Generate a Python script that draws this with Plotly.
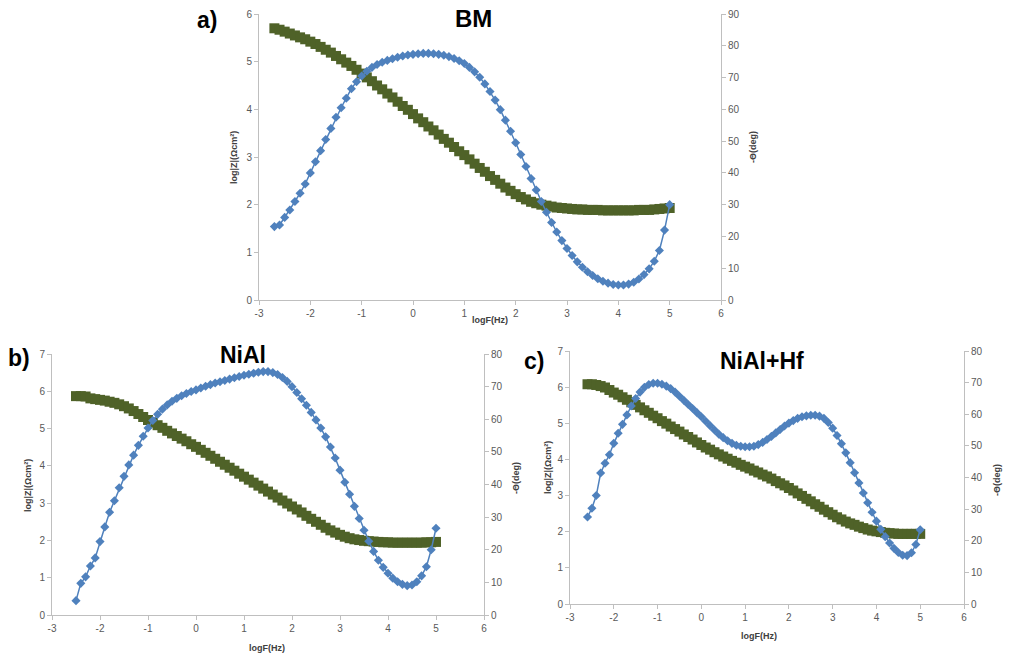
import plotly.graph_objects as go

# ---- frequency grid (log10 f / Hz), shared by all panels ----
LOGF = [-2.7, -2.6, -2.5, -2.4, -2.3, -2.2, -2.1, -2.0, -1.9, -1.8, -1.7, -1.6, -1.5, -1.4, -1.3,
        -1.2, -1.1, -1.0, -0.9, -0.8, -0.7, -0.6, -0.5, -0.4, -0.3, -0.2, -0.1, 0.0, 0.1, 0.2,
        0.3, 0.4, 0.5, 0.6, 0.7, 0.8, 0.9, 1.0, 1.1, 1.2, 1.3, 1.4, 1.5, 1.6, 1.7, 1.8, 1.9,
        2.0, 2.1, 2.2, 2.3, 2.4, 2.5, 2.6, 2.7, 2.8, 2.9, 3.0, 3.1, 3.2, 3.3, 3.4, 3.5, 3.6,
        3.7, 3.8, 3.9, 4.0, 4.1, 4.2, 4.3, 4.4, 4.5, 4.6, 4.7, 4.8, 4.9, 5.0]

# ---- a) BM ----
BM_X = LOGF
BM_Z = [5.70, 5.67, 5.63, 5.59, 5.55, 5.51, 5.47, 5.42, 5.37, 5.31, 5.25, 5.19, 5.12, 5.05, 4.98,
        4.91, 4.83, 4.75, 4.67, 4.59, 4.50, 4.42, 4.33, 4.25, 4.16, 4.07, 3.99, 3.90, 3.81, 3.73,
        3.64, 3.56, 3.47, 3.38, 3.30, 3.21, 3.12, 3.04, 2.95, 2.86, 2.77, 2.69, 2.60, 2.52, 2.44,
        2.36, 2.29, 2.22, 2.16, 2.11, 2.06, 2.03, 2.00, 1.98, 1.96, 1.94, 1.93, 1.92, 1.91, 1.90,
        1.90, 1.89, 1.89, 1.89, 1.88, 1.88, 1.88, 1.88, 1.88, 1.88, 1.88, 1.89, 1.89, 1.89, 1.90,
        1.91, 1.92, 1.93]
BM_PH = [23.1, 23.6, 26.0, 28.3, 31.0, 33.6, 36.5, 40.0, 43.5, 47.0, 50.5, 54.0, 57.5, 60.5, 63.5,
         66.5, 68.7, 70.5, 72.0, 73.2, 74.1, 74.8, 75.4, 75.9, 76.4, 76.8, 77.1, 77.3, 77.5, 77.6,
         77.6, 77.5, 77.3, 77.0, 76.6, 76.0, 75.3, 74.4, 73.2, 71.8, 70.1, 68.0, 65.6, 62.9, 59.9,
         56.6, 53.1, 49.5, 45.8, 42.0, 38.2, 34.6, 31.0, 27.6, 24.4, 21.4, 18.7, 16.2, 14.0, 12.0,
         10.3, 8.9, 7.7, 6.7, 5.9, 5.3, 4.9, 4.7, 4.7, 5.0, 5.6, 6.6, 8.0, 9.8, 12.2,
         15.6, 22.0, 30.0]

# ---- b) NiAl ----
NIAL_X = LOGF[2:]
NIAL_Z = [5.87, 5.87, 5.86, 5.81, 5.79, 5.77, 5.75, 5.72, 5.69, 5.65, 5.60, 5.54, 5.47, 5.39, 5.31,
          5.23, 5.16, 5.09, 5.02, 4.94, 4.87, 4.80, 4.73, 4.66, 4.58, 4.51, 4.43, 4.35, 4.27, 4.19,
          4.11, 4.03, 3.95, 3.87, 3.79, 3.71, 3.63, 3.55, 3.47, 3.39, 3.31, 3.23, 3.15, 3.07, 2.99,
          2.91, 2.83, 2.75, 2.66, 2.58, 2.50, 2.42, 2.34, 2.27, 2.21, 2.15, 2.10, 2.06, 2.03, 2.01,
          1.99, 1.98, 1.97, 1.96, 1.95, 1.95, 1.94, 1.94, 1.94, 1.94, 1.94, 1.94, 1.94, 1.95, 1.95,
          1.96]
NIAL_PH = [4.4, 9.7, 11.7, 15.0, 17.5, 22.5, 27.0, 31.5, 35.0, 39.0, 42.5, 46.0, 49.0, 52.0, 54.8,
           57.3, 59.6, 61.5, 63.1, 64.4, 65.5, 66.4, 67.2, 67.9, 68.5, 69.0, 69.6, 70.1, 70.6, 71.1,
           71.5, 71.9, 72.3, 72.7, 73.1, 73.5, 73.8, 74.1, 74.4, 74.6, 74.6, 74.3, 73.7, 72.8, 71.6,
           70.0, 68.2, 66.3, 64.3, 62.1, 59.8, 57.3, 54.6, 51.5, 48.1, 44.4, 40.7, 37.0, 33.3, 29.6,
           26.0, 22.6, 19.5, 16.8, 14.6, 12.8, 11.3, 10.2, 9.4, 9.0, 9.2, 10.2, 12.0, 14.8, 20.0,
           26.6]

# ---- c) NiAl+Hf ----
NIALHF_X = LOGF[1:]
NIALHF_Z = [6.08, 6.08, 6.06, 6.03, 5.99, 5.92, 5.85, 5.79, 5.72, 5.65, 5.58, 5.51, 5.44, 5.36, 5.29,
            5.21, 5.14, 5.06, 4.99, 4.91, 4.84, 4.77, 4.69, 4.62, 4.55, 4.47, 4.40, 4.33, 4.27, 4.20,
            4.14, 4.08, 4.02, 3.96, 3.91, 3.85, 3.80, 3.75, 3.69, 3.64, 3.58, 3.53, 3.47, 3.40, 3.34,
            3.28, 3.21, 3.14, 3.06, 2.99, 2.91, 2.84, 2.76, 2.69, 2.61, 2.54, 2.47, 2.40, 2.34, 2.28,
            2.23, 2.19, 2.14, 2.10, 2.06, 2.03, 2.01, 1.99, 1.97, 1.96, 1.95, 1.94, 1.94, 1.94, 1.94,
            1.94, 1.94]
NIALHF_PH = [27.5, 30.3, 34.3, 41.4, 44.5, 47.2, 50.8, 54.0, 56.8, 59.8, 62.6, 65.0, 67.0, 68.5, 69.4,
             69.8, 69.8, 69.5, 68.9, 68.1, 67.0, 65.7, 64.4, 63.1, 61.8, 60.5, 59.2, 57.8, 56.4, 55.0,
             53.7, 52.6, 51.6, 50.8, 50.2, 49.9, 49.7, 49.7, 49.9, 50.4, 51.1, 52.0, 53.0, 54.1, 55.2,
             56.3, 57.2, 58.0, 58.7, 59.2, 59.5, 59.7, 59.7, 59.4, 58.7, 57.4, 55.6, 53.3, 50.7, 47.8,
             44.7, 41.5, 38.3, 35.1, 32.0, 29.0, 26.2, 23.6, 21.3, 19.3, 17.6, 16.3, 15.4, 15.3, 16.2,
             18.8, 23.5]

X_TICKS = [-3, -2, -1, 0, 1, 2, 3, 4, 5, 6]
X_TICKTEXT = ["-3", "-2", "-1", "0", "1", "2", "3", "4", "5", "6"]
X_TITLE = "logF(Hz)"
Y1_TITLE = "log|Z|(Ωcm²)"
Y2_TITLE = "-Θ(deg)"

W, H = 1011, 656
GREEN = "#4F6228"
BLUE = "#4F81BD"
AXC = "#BFBFBF"
TICKF = dict(family="Liberation Sans, Arial, sans-serif", size=10, color="#595959")


def px(xp):
    return xp / W


def py(yp):
    return 1 - yp / H


panels = [
    dict(x=BM_X, z=BM_Z, ph=BM_PH, xd=(259, 721), yd=(300, 14), ymax=6, y2max=90),
    dict(x=NIAL_X, z=NIAL_Z, ph=NIAL_PH, xd=(52, 484), yd=(615, 354), ymax=7, y2max=80),
    dict(x=NIALHF_X, z=NIALHF_Z, ph=NIALHF_PH, xd=(570, 964), yd=(604, 351), ymax=7, y2max=80),
]

fig = go.Figure()
layout = {}
for i, p in enumerate(panels):
    xn = i + 1
    yl = 2 * i + 1
    yr = 2 * i + 2
    xs = "x" if xn == 1 else f"x{xn}"
    yls = "y" if yl == 1 else f"y{yl}"
    yrs = f"y{yr}"
    fig.add_trace(go.Scatter(x=p["x"], y=p["z"], xaxis=xs, yaxis=yls, mode="lines+markers",
                             line=dict(color=GREEN, width=2),
                             marker=dict(symbol="square", size=10, color=GREEN),
                             showlegend=False))
    fig.add_trace(go.Scatter(x=p["x"], y=p["ph"], xaxis=xs, yaxis=yrs, mode="lines+markers",
                             line=dict(color=BLUE, width=1.5),
                             marker=dict(symbol="diamond", size=7, color=BLUE),
                             showlegend=False))
    common = dict(showline=True, linecolor=AXC, linewidth=1, ticks="outside", ticklen=4,
                  tickcolor=AXC, tickfont=TICKF, showgrid=False, zeroline=False,
                  automargin=False, fixedrange=True)
    layout["xaxis" if xn == 1 else f"xaxis{xn}"] = dict(
        domain=[px(p["xd"][0]), px(p["xd"][1])], range=[-3, 6], tickvals=X_TICKS,
        ticktext=X_TICKTEXT, anchor=yls, **common)
    layout["yaxis" if yl == 1 else f"yaxis{yl}"] = dict(
        domain=[py(p["yd"][0]), py(p["yd"][1])], range=[0, p["ymax"]], dtick=1,
        anchor=xs, **common)
    layout[f"yaxis{yr}"] = dict(
        range=[0, p["y2max"]], dtick=10, overlaying=yls, side="right", anchor=xs, **common)

fig.update_layout(**layout)
fig.update_layout(width=W, height=H, margin=dict(l=0, r=0, t=0, b=0),
                  paper_bgcolor="white", plot_bgcolor="white", template="none")

TF = "Liberation Sans, Arial, sans-serif"
ann = []


def add(text, xp, yp, size, bold=True, angle=0, color="#000000"):
    ann.append(dict(text=f"<b>{text}</b>" if bold else text, x=px(xp), y=py(yp),
                    xref="paper", yref="paper", showarrow=False, textangle=angle,
                    font=dict(family=TF, size=size, color=color),
                    xanchor="center", yanchor="middle"))


# panel labels and titles
add("a)", 207, 20, 23)
add("BM", 473, 18, 24)
add("b)", 19, 358, 23)
add("NiAl", 243, 355, 23)
add("c)", 534, 361, 23)
add("NiAl+Hf", 762, 361, 23)
# axis titles (x title, left y title, right y title)
for (xt, yt), (ylx, yly), (y2x, y2y) in [((490, 320), (234, 158), (753, 147)),
                                         ((267, 648), (28, 486), (516, 478)),
                                         ((759, 636), (548, 468), (997, 480))]:
    add(X_TITLE, xt, yt, 9, color="#404040")
    add(Y1_TITLE, ylx, yly, 9, angle=-90, color="#404040")
    add(Y2_TITLE, y2x, y2y, 9, angle=-90, color="#404040")

fig.update_layout(annotations=ann)
fig.write_html("out.html", config={"displayModeBar": False},
               post_script="document.body.style.margin='0';document.body.style.overflow='hidden';")
